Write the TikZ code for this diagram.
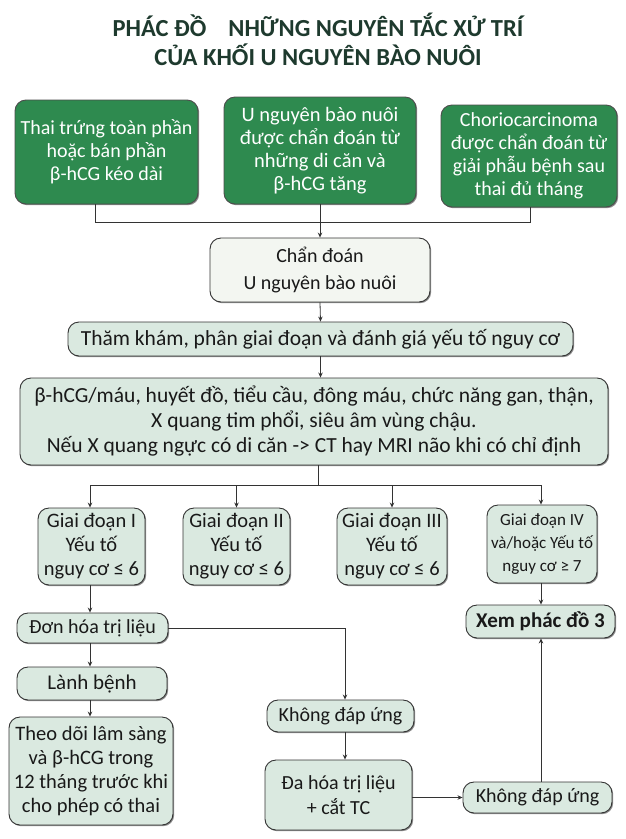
\documentclass[tikz,border=0pt]{standalone}
\usepackage{fontspec}
\setmainfont{Carlito}
\usetikzlibrary{arrows.meta,shadows}
\definecolor{dkgreen}{HTML}{2E8A4F}
\definecolor{ltgreen}{HTML}{DAE9E0}
\definecolor{whitebox}{HTML}{F3F6F1}
\definecolor{titlecol}{HTML}{1E3A2E}
\definecolor{linecol}{HTML}{333333}
\tikzset{
  box/.style={draw=linecol, line width=0.9pt, rounded corners=11pt, align=center,
    inner sep=1pt, text=black!90, fill=ltgreen,
    font=\fontsize{20}{23}\selectfont,
    drop shadow={shadow xshift=1.2pt, shadow yshift=-1.2pt, opacity=0.45, fill=black}},
  gbox/.style={box, fill=dkgreen, text=white, draw=black!70},
  wbox/.style={box, fill=whitebox},
  arr/.style={draw=linecol, line width=0.8pt, -{Stealth[length=5pt,width=4.5pt]}},
  ln/.style={draw=linecol, line width=0.8pt},
}
\begin{document}
\begin{tikzpicture}[x=1pt,y=-1pt]
\useasboundingbox[fill=white] (0,0) rectangle (625,839);
% title
\node[font=\bfseries\fontsize{24.5}{28}\selectfont, text=titlecol] (t1) at (318,25) {PHÁC ĐỒ\hspace{0.9em}NHỮNG NGUYÊN TẮC XỬ TRÍ};
\node[font=\bfseries\fontsize{24.5}{28}\selectfont, text=titlecol] (t2) at (318,55) {CỦA KHỐI U NGUYÊN BÀO NUÔI};
% top green boxes
\node[gbox, minimum width=183pt, minimum height=104pt] (g1) at (106.5,152)
  {Thai trứng toàn phần\\hoặc bán phần\\β-hCG kéo dài};
\node[gbox, minimum width=192pt, minimum height=107pt, font=\fontsize{20.5}{23}\selectfont] (g2) at (320,150.5)
  {U nguyên bào nuôi\\được chẩn đoán từ\\những di căn và\\β-hCG tăng};
\node[gbox, minimum width=176pt, minimum height=102pt] (g3) at (529,156)
  {Choriocarcinoma\\được chẩn đoán từ\\giải phẫu bệnh sau\\thai đủ tháng};
\node[wbox, minimum width=220pt, minimum height=64pt, font=\fontsize{20}{27}\selectfont] (cd) at (320,270)
  {Chẩn đoán\\U nguyên bào nuôi};
\node[box, minimum width=505pt, minimum height=34pt, font=\fontsize{21.5}{25}\selectfont] (tk) at (320.5,339)
  {Thăm khám, phân giai đoạn và đánh giá yếu tố nguy cơ};
\node[box, minimum width=588pt, minimum height=87pt, font=\fontsize{21.5}{25}\selectfont] (bh) at (314,421.5)
  {β-hCG/máu, huyết đồ, tiểu cầu, đông máu, chức năng gan, thận,\\X quang tim phổi, siêu âm vùng chậu.\\Nếu X quang ngực có di căn -> CT hay MRI não khi có chỉ định};
% stages
\node[box, minimum width=107pt, minimum height=77pt, font=\fontsize{20.5}{24}\selectfont] (s1) at (91.5,546.5)
  {Giai đoạn I\\Yếu tố\\nguy cơ ≤ 6};
\node[box, minimum width=107pt, minimum height=77pt, font=\fontsize{20.5}{24}\selectfont] (s2) at (236.5,546.5)
  {Giai đoạn II\\Yếu tố\\nguy cơ ≤ 6};
\node[box, minimum width=110pt, minimum height=77pt, font=\fontsize{20.5}{24}\selectfont] (s3) at (392,546.5)
  {Giai đoạn III\\Yếu tố\\nguy cơ ≤ 6};
\node[box, minimum width=110pt, minimum height=78pt, font=\fontsize{17}{23}\selectfont] (s4) at (542,544)
  {Giai đoạn IV\\và/hoặc Yếu tố\\nguy cơ ≥ 7};
% lower
\node[box, minimum width=151pt, minimum height=30pt] (don) at (92.5,628) {Đơn hóa trị liệu};
\node[box, minimum width=149pt, minimum height=33pt, font=\bfseries\fontsize{21}{24}\selectfont] (xem) at (540.5,621.5) {Xem phác đồ 3};
\node[box, minimum width=150pt, minimum height=33pt, font=\fontsize{21}{24}\selectfont] (lanh) at (92,683.5) {Lành bệnh};
\node[box, minimum width=164pt, minimum height=108pt, font=\fontsize{20.5}{24}\selectfont] (theo) at (91,771)
  {Theo dõi lâm sàng\\và β-hCG trong\\12 tháng trước khi\\cho phép có thai};
\node[box, minimum width=147pt, minimum height=32pt] (kdu1) at (340.5,716) {Không đáp ứng};
\node[box, minimum width=147pt, minimum height=70pt, font=\fontsize{20}{25}\selectfont] (da) at (338.5,795) {Đa hóa trị liệu\\+ cắt TC};
\node[box, minimum width=149pt, minimum height=31pt] (kdu2) at (537.5,797.5) {Không đáp ứng};
% connectors
\coordinate (j) at (320,222);
\coordinate (jl) at (95,222);
\coordinate (jr) at (530,222);
\draw[ln] (g1.south -| jl) -- (jl) -- (jr) -- (g3.south -| jr);
\draw[arr] (g2.south) -- (cd.north);
\draw[arr] (cd.south) -- (tk.north);
\draw[arr] (tk.south) -- (tk.south |- bh.north);
\coordinate (b) at (318,485);
\coordinate (b1) at (90,485);
\coordinate (b4) at (541,485);
\draw[ln] (bh.south -| b) -- (b);
\draw[ln] (b1) -- (b4);
\draw[arr] (b1) -- (b1 |- s1.north);
\draw[arr] (s2.north |- b) -- (s2.north);
\draw[arr] (s3.north |- b) -- (s3.north);
\draw[arr] (b4) -- (b4 |- s4.north);
\draw[arr] (s1.south -| b1) -- (don.north -| b1);
\draw[arr] (s4.south -| b4) -- (xem.north -| b4);
\draw[arr] (don.south -| b1) -- (lanh.north -| b1);
\draw[arr] (lanh.south -| b1) -- (theo.north -| b1);
\coordinate (k) at (345,628);
\draw[arr] (don.east) -- (k) -- (k |- kdu1.north);
\draw[arr] (kdu1.south -| k) -- (da.north -| k);
\draw[arr] (da.east |- kdu2.west) -- (kdu2.west);
\draw[arr] (kdu2.north -| b4) -- (xem.south -| b4);
\end{tikzpicture}
\end{document}
